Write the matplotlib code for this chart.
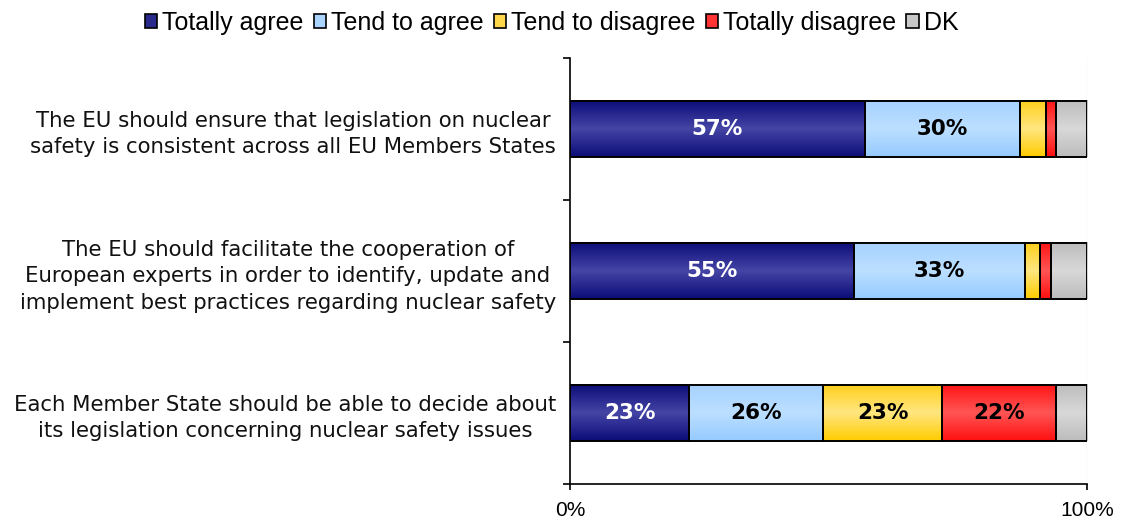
import numpy as np
import matplotlib
matplotlib.use("Agg")
import matplotlib.pyplot as plt
from matplotlib.patches import Patch
from matplotlib.colors import to_rgb

categories = [
    "The EU should ensure that legislation on nuclear\nsafety is consistent across all EU Members States",
    "The EU should facilitate the cooperation of\nEuropean experts in order to identify, update and\nimplement best practices regarding nuclear safety",
    "Each Member State should be able to decide about\nits legislation concerning nuclear safety issues",
]
series_names = ["Totally agree", "Tend to agree", "Tend to disagree", "Totally disagree", "DK"]
totally_agree = [57, 55, 23]
tend_to_agree = [30, 33, 26]
tend_to_disagree = [5, 3, 23]
totally_disagree = [2, 2, 22]
dont_know = [6, 7, 6]
values = [totally_agree, tend_to_agree, tend_to_disagree, totally_disagree, dont_know]
x_tick_labels = ["0%", "100%"]

# gradient colours: (edge top, middle, edge bottom)
gradients = [
    ("#0c0c78", "#4545a6", "#0c0c78"),
    ("#a6d2ff", "#bcdfff", "#96caff"),
    ("#ffcf1a", "#ffe680", "#ffcc00"),
    ("#ff1414", "#ff5555", "#ff1010"),
    ("#bcbcbc", "#d9d9d9", "#bcbcbc"),
]
legend_colors = ["#2a2a8c", "#a8d4ff", "#ffd84a", "#ff3333", "#c8c8c8"]
label_colors = ["white", "black", "black", "black", "black"]

fig = plt.figure(figsize=(11.21, 5.22), dpi=100)
ax = fig.add_axes([570 / 1121, 1 - 484 / 522, 517 / 1121, 426 / 522])

y = np.arange(len(categories))
bar_h = 0.4
left = np.zeros(len(categories))
for i, (vals, grad) in enumerate(zip(values, gradients)):
    vals = np.array(vals, dtype=float) / 100.0
    bars = ax.barh(y, vals, left=left, height=bar_h, facecolor="none",
                   edgecolor="black", linewidth=1.4, zorder=3)
    c_top, c_mid, c_bot = (np.array(to_rgb(c)) for c in grad)
    t = np.linspace(0, 1, 64)
    col = np.where(t[:, None] < 0.5,
                   c_top + (c_mid - c_top) * (t[:, None] / 0.5),
                   c_mid + (c_bot - c_mid) * ((t[:, None] - 0.5) / 0.5))
    img = col[:, None, :]
    for j, rect in enumerate(bars.patches):
        x0 = left[j]
        x1 = left[j] + vals[j]
        y0 = y[j] - bar_h / 2
        y1 = y[j] + bar_h / 2
        ax.imshow(img, extent=(x0, x1, y1, y0), aspect="auto", zorder=2,
                  interpolation="bilinear")
        if vals[j] >= 0.10:
            ax.text((x0 + x1) / 2, y[j], f"{int(round(vals[j] * 100))}%",
                    ha="center", va="center", fontsize=15.5, fontweight="bold",
                    color=label_colors[i], family="DejaVu Sans", zorder=4)
    left = left + vals

ax.set_xlim(0, 1)
ax.set_ylim(2.5, -0.5)

ax.axvline(1.0, color="#e6e6e6", linewidth=1, zorder=1)

for s in ["top", "right"]:
    ax.spines[s].set_visible(False)
ax.spines["left"].set_linewidth(1.2)
ax.spines["bottom"].set_linewidth(1.2)

ax.set_yticks(y)
ax.set_yticklabels(categories, fontsize=15.3, family="DejaVu Sans",
                   ha="right", multialignment="center", color="#111111",
                   linespacing=1.4)
ax.tick_params(axis="y", which="major", length=0, pad=10)
ax.set_yticks([-0.5, 0.5, 1.5, 2.5], minor=True)
ax.tick_params(axis="y", which="minor", length=5, width=1.2, direction="out")

ax.set_xticks([0, 1])
ax.set_xticklabels(x_tick_labels, fontsize=15, family="Liberation Sans")
ax.tick_params(axis="x", length=4, width=1.2, direction="out", pad=8)

handles = [Patch(facecolor=c, edgecolor="black", linewidth=1.2) for c in legend_colors]
fig.legend(handles, series_names, loc="center", bbox_to_anchor=(0.492, 0.956),
           ncol=5, frameon=False, prop={"family": "Liberation Sans", "size": 18},
           handlelength=0.5, handleheight=0.5, handletextpad=0.2, columnspacing=0.4)

fig.savefig("out.png", dpi=100, facecolor="white")
